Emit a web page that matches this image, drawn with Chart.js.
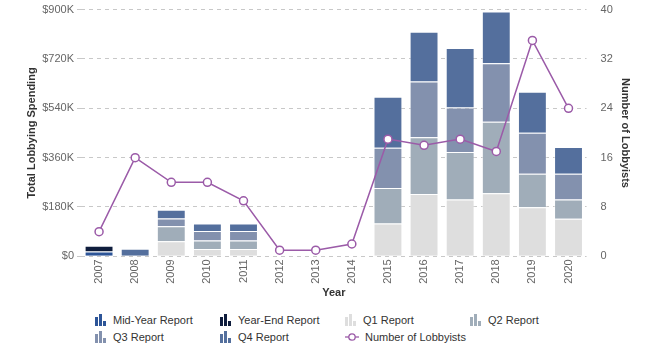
<!DOCTYPE html>
<html>
<head>
<meta charset="utf-8">
<script src="https://cdn.jsdelivr.net/npm/chart.js@4"></script>
<style>
  body { margin: 0; background: #fff; font-family: "Liberation Sans", Arial, sans-serif; }
  #wrap { position: relative; width: 659px; height: 354px; overflow: hidden; }
  #chart { position: absolute; left: 0; top: -3px; }
  .legend { position: absolute; left: 0; top: 314px; width: 659px; }
  .item { position: absolute; font-size: 11px; color: #333; display: flex; align-items: center; white-space: nowrap; }
  .item svg { margin-right: 6px; }
</style>
</head>
<body>
<div id="wrap">
  <canvas id="chart" width="659" height="303"></canvas>
  <div class="legend" id="legend"></div>
</div>
<script>
// years on the x axis
const years = ['2007','2008','2009','2010','2011','2012','2013','2014','2015','2016','2017','2018','2019','2020']

// spending per report, in thousands of dollars
const midYear = [18, 0, 0, 0, 0, 0, 0, 0, 0, 0, 0, 0, 0, 0]
const yearEnd = [21, 0, 0, 0, 0, 0, 0, 0, 0, 0, 0, 0, 0, 0]
const q1 = [0, 0, 55, 27, 27, 0, 0, 0, 120, 227, 207, 230, 179, 137]
const q2 = [0, 0, 55, 31, 31, 0, 0, 0, 129, 207, 174, 261, 122, 70]
const q3 = [0, 0, 28, 34, 34, 0, 0, 0, 147, 204, 162, 213, 150, 94]
const q4 = [0, 28, 32, 28, 28, 0, 0, 0, 186, 181, 217, 189, 149, 98]

// number of lobbyists
const lobbyists = [4, 16, 12, 12, 9, 1, 1, 2, 19, 18, 19, 17, 35, 24]

const leftTicks = [0, 180, 360, 540, 720, 900]
const rightTicks = [0, 8, 16, 24, 32, 40]

const colors = {
  midYear: '#2d5598',
  yearEnd: '#0f1d3d',
  q1: '#dedede',
  q2: '#a0adb9',
  q3: '#8391ae',
  q4: '#546f9d',
  line: '#9b5ba8'
}

const k = arr => arr.map(v => v * 1000)

function barSet(label, data, color) {
  return {
    type: 'bar',
    label: label,
    data: k(data),
    backgroundColor: color,
    borderColor: 'rgba(255,255,255,0.45)',
    borderWidth: 1,
    yAxisID: 'y',
    stack: 'spend',
    order: 1,
    barPercentage: 0.8,
    categoryPercentage: 1
  }
}

new Chart(document.getElementById('chart'), {
  data: {
    labels: years,
    datasets: [
      {
        type: 'line',
        label: 'Number of Lobbyists',
        data: lobbyists,
        borderColor: colors.line,
        borderWidth: 1.5,
        pointRadius: 4,
        pointBorderWidth: 1.5,
        pointBackgroundColor: '#fff',
        pointBorderColor: colors.line,
        tension: 0,
        yAxisID: 'y1',
        order: 0
      },
      barSet('Mid-Year Report', midYear, colors.midYear),
      barSet('Year-End Report', yearEnd, colors.yearEnd),
      barSet('Q1 Report', q1, colors.q1),
      barSet('Q2 Report', q2, colors.q2),
      barSet('Q3 Report', q3, colors.q3),
      barSet('Q4 Report', q4, colors.q4)
    ]
  },
  options: {
    responsive: false,
    animation: false,
    layout: { padding: { left: 25, right: 19, top: 0, bottom: 0 } },
    plugins: {
      legend: { display: false },
      tooltip: { enabled: false }
    },
    scales: {
      x: {
        stacked: true,
        grid: { display: false, drawTicks: false },
        border: { display: false },
        ticks: {
          maxRotation: 90, minRotation: 90,
          color: '#666',
          font: { family: 'Liberation Sans', size: 11 },
          padding: 3
        },
        title: {
          display: true, text: 'Year', color: '#333',
          font: { family: 'Liberation Sans', size: 11, weight: 'bold' },
          padding: { top: 0, bottom: 0 }
        }
      },
      y: {
        stacked: true,
        position: 'left',
        min: 0, max: 900000,
        afterBuildTicks: axis => { axis.ticks = leftTicks.map(v => ({ value: v * 1000 })) },
        grid: { color: '#c8c8c8', tickLength: 4 },
        border: { display: false, dash: [4, 4] },
        ticks: {
          color: '#666',
          font: { family: 'Liberation Sans', size: 11 },
          padding: 3,
          callback: v => v === 0 ? '$0' : '$' + (v / 1000) + 'K'
        },
        title: {
          display: true, text: 'Total Lobbying Spending', color: '#333',
          font: { family: 'Liberation Sans', size: 11, weight: 'bold' },
          padding: { top: 0, bottom: 1 }
        }
      },
      y1: {
        position: 'right',
        min: 0, max: 40,
        afterBuildTicks: axis => { axis.ticks = rightTicks.map(v => ({ value: v })) },
        grid: { display: false },
        border: { display: false },
        ticks: {
          color: '#666',
          font: { family: 'Liberation Sans', size: 11 },
          padding: 6
        },
        title: {
          display: true, text: 'Number of Lobbyists', color: '#333',
          font: { family: 'Liberation Sans', size: 11, weight: 'bold' },
          padding: { top: 8, bottom: 0 }
        }
      }
    }
  }
})

// html legend, 4 columns
const legendItems = [
  { text: 'Mid-Year Report', color: colors.midYear },
  { text: 'Year-End Report', color: colors.yearEnd },
  { text: 'Q1 Report', color: colors.q1 },
  { text: 'Q2 Report', color: colors.q2 },
  { text: 'Q3 Report', color: colors.q3 },
  { text: 'Q4 Report', color: colors.q4 },
  { text: 'Number of Lobbyists', color: colors.line, line: true }
]

const legend = document.getElementById('legend')
legendItems.forEach((it, i) => {
  const col = i % 4, row = Math.floor(i / 4)
  const el = document.createElement('div')
  el.className = 'item'
  el.style.left = (95 + col * 125) + 'px'
  el.style.top = (row * 17) + 'px'
  let icon
  if (it.line) {
    icon = '<svg width="14" height="12"><line x1="0" y1="6" x2="14" y2="6" stroke="' + it.color + '" stroke-width="1.3"/>' +
      '<circle cx="7" cy="6" r="3.2" fill="#fff" stroke="' + it.color + '" stroke-width="1.3"/></svg>'
  } else {
    icon = '<svg width="12" height="12"><rect x="0" y="3" width="3" height="9" fill="' + it.color + '"/>' +
      '<rect x="4" y="0" width="3" height="12" fill="' + it.color + '"/>' +
      '<rect x="8" y="7" width="3" height="5" fill="' + it.color + '"/></svg>'
  }
  el.innerHTML = icon + '<span>' + it.text + '</span>'
  legend.appendChild(el)
})
</script>
</body>
</html>
